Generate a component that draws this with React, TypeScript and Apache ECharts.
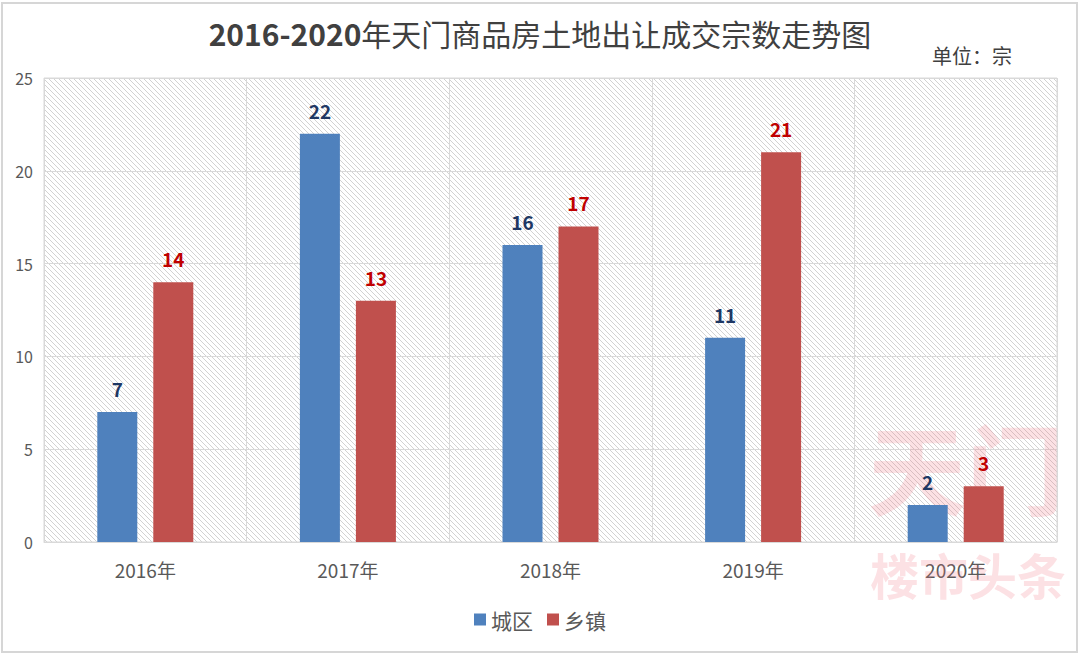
import React, { useEffect, useRef } from "react";
import * as echarts from "echarts";

const categories = ["2016年", "2017年", "2018年", "2019年", "2020年"];
const urbanValues = [7, 22, 16, 11, 2];
const townValues = [14, 13, 17, 21, 3];
const seriesNames = ["城区", "乡镇"];
const titleYears = "2016-2020";
const titleRest = "年天门商品房土地出让成交宗数走势图";
const unitText = "单位：宗";

const FONT = '"Noto Sans CJK SC", "Noto Sans", sans-serif';

function makeHatch(): HTMLCanvasElement {
  const s = 5;
  const c = document.createElement("canvas");
  c.width = s;
  c.height = s;
  const ctx = c.getContext("2d")!;
  ctx.fillStyle = "#ffffff";
  ctx.fillRect(0, 0, s, s);
  ctx.strokeStyle = "#d2d2d2";
  ctx.lineWidth = 1;
  ctx.beginPath();
  ctx.moveTo(-1, -1);
  ctx.lineTo(s + 1, s + 1);
  ctx.moveTo(-1, s - 1);
  ctx.lineTo(1, s + 1);
  ctx.moveTo(s - 1, -1);
  ctx.lineTo(s + 1, 1);
  ctx.stroke();
  return c;
}

export default function App() {
  const ref = useRef<HTMLDivElement>(null);
  useEffect(() => {
    document.body.style.margin = "0";
    const chart = echarts.init(ref.current!, null, { renderer: "svg" });
    const hatch = makeHatch();
    chart.setOption({
      animation: false,
      backgroundColor: "#ffffff",
      textStyle: { fontFamily: FONT },
      title: {
        text: `{a|${titleYears}}{b|${titleRest}}`,
        left: "center",
        top: 13,
        textStyle: {
          rich: {
            a: { fontSize: 30, fontWeight: "bold", color: "#404040", fontFamily: FONT },
            b: { fontSize: 30, fontWeight: "normal", color: "#404040", fontFamily: FONT },
          },
        },
      },
      graphic: [
        {
          type: "rect",
          shape: { x: 2, y: 3, width: 1075, height: 649 },
          style: { fill: "none", stroke: "#d6d6d6", lineWidth: 2 },
          z: 100,
        },
        {
          type: "text",
          left: 932,
          top: 45,
          style: { text: unitText, fontSize: 20, fill: "#404040", fontFamily: FONT },
        },
        {
          type: "text",
          left: 868,
          top: 416,
          z: 1,
          style: { text: "天门", fontSize: 98, fill: "rgba(240,120,130,0.22)", fontFamily: FONT, fontWeight: "bold" },
        },
        {
          type: "text",
          left: 870,
          top: 549,
          z: 1,
          style: { text: "楼市头条", fontSize: 49, fill: "rgba(240,120,130,0.22)", fontFamily: FONT, fontWeight: "bold" },
        },
      ],
      legend: {
        bottom: 20,
        left: "center",
        itemWidth: 12,
        itemHeight: 12,
        itemGap: 14,
        icon: "rect",
        textStyle: { fontSize: 21, color: "#595959", fontFamily: FONT },
        data: seriesNames,
      },
      grid: {
        left: 44,
        right: 23,
        top: 78,
        bottom: 113,
        show: true,
        backgroundColor: { image: hatch, repeat: "repeat" },
        borderColor: "#d9d9d9",
        borderWidth: 1,
      },
      xAxis: {
        type: "category",
        data: categories,
        axisTick: { show: false },
        axisLine: { lineStyle: { color: "#d9d9d9" } },
        axisLabel: { fontSize: 19, color: "#595959", margin: 18, fontFamily: FONT },
        splitLine: { show: true, lineStyle: { color: "#d9d9d9", width: 1 } },
      },
      yAxis: {
        type: "value",
        min: 0,
        max: 25,
        interval: 5,
        axisLabel: { fontSize: 16, color: "#595959", margin: 11, fontFamily: FONT },
        axisLine: { show: false },
        axisTick: { show: false },
        splitLine: { lineStyle: { color: "#d9d9d9", width: 1 } },
      },
      series: [
        {
          name: seriesNames[0],
          type: "bar",
          data: urbanValues,
          barWidth: 40,
          barGap: "40%",
          itemStyle: { color: "#4F81BD" },
          label: {
            show: true,
            position: "top",
            distance: 14,
            fontSize: 19,
            fontWeight: "bold",
            color: "#1F3864",
            fontFamily: FONT,
          },
        },
        {
          name: seriesNames[1],
          type: "bar",
          data: townValues,
          barWidth: 40,
          barGap: "40%",
          itemStyle: { color: "#C0504D" },
          label: {
            show: true,
            position: "top",
            distance: 14,
            fontSize: 19,
            fontWeight: "bold",
            color: "#C00000",
            fontFamily: FONT,
          },
        },
      ],
    });
    return () => chart.dispose();
  }, []);
  return <div ref={ref} style={{ width: 1080, height: 655 }} />;
}
